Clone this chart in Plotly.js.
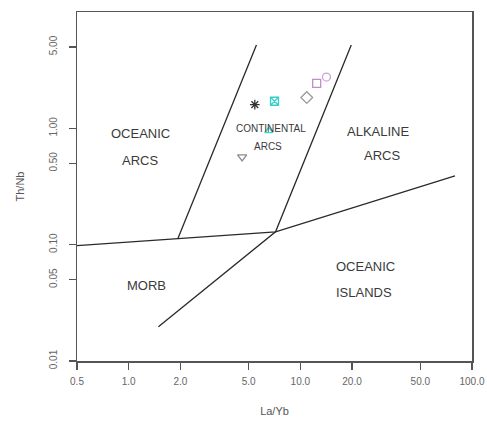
<!DOCTYPE html>
<html>
<head>
<meta charset="utf-8">
<script src="https://cdn.plot.ly/plotly-3.0.1.min.js"></script>
<style>html,body{margin:0;padding:0;background:#fff;}#chart{width:487px;height:423px;}</style>
</head>
<body>
<div id="chart"></div>
<script>
// ---- Data ----
// Sample points (La/Yb, Th/Nb)
var sampleNames = ["S1", "S2", "S3", "S4", "S5", "S6", "S7"];
var sampleLaYb  = [5.43, 7.07, 10.9, 12.45, 14.2, 6.55, 4.58];
var sampleThNb  = [1.60, 1.71, 1.84, 2.43, 2.76, 0.95, 0.568];

// Field boundary lines (La/Yb, Th/Nb vertices)
var boundaryBaseX  = [0.5, 1.93, 7.17, 79.6];
var boundaryBaseY  = [0.098, 0.112, 0.129, 0.39];
var boundaryLeftX  = [1.93, 5.55];
var boundaryLeftY  = [0.112, 5.2];
var boundaryRightX = [1.49, 7.17, 19.8];
var boundaryRightY = [0.0197, 0.129, 5.2];

// Tick labels
var xTickVals = [0.5, 1, 2, 5, 10, 20, 50, 100];
var xTickText = ["0.5", "1.0", "2.0", "5.0", "10.0", "20.0", "50.0", "100.0"];
var yTickVals = [0.01, 0.05, 0.1, 0.5, 1, 5];
var yTickText = ["0.01", "0.05", "0.10", "0.50", "1.00", "5.00"];

// Field labels
var fieldLabels = ["OCEANIC", "ARCS", "CONTINENTAL", "ARCS", "ALKALINE", "ARCS", "MORB", "OCEANIC", "ISLANDS"];

// ---- Styles ----
var sampleStyles = [
  {symbol: "asterisk-open", color: "#333333", size: 8},
  {symbol: "square-x-open", color: "#35d0c8", size: 8},
  {symbol: "diamond-open", color: "#9a9a9a", size: 9},
  {symbol: "square-open", color: "#c08ec8", size: 8},
  {symbol: "circle-open", color: "#d0a0d8", size: 8},
  {symbol: "triangle-up-open", color: "#40d8c8", size: 7},
  {symbol: "triangle-down-open", color: "#8a8a8a", size: 8}
];
var labelPos = [
  [0.160, 0.652, 13], [0.160, 0.575, 13],
  [0.491, 0.667, 10], [0.483, 0.616, 10],
  [0.763, 0.658, 13], [0.773, 0.590, 13],
  [0.177, 0.215, 13],
  [0.731, 0.270, 13], [0.727, 0.197, 13]
];

var lineStyle = {color: "#2a2a2a", width: 1.3};
var traces = [
  {x: boundaryBaseX, y: boundaryBaseY, mode: "lines", line: lineStyle, hoverinfo: "skip"},
  {x: boundaryLeftX, y: boundaryLeftY, mode: "lines", line: lineStyle, hoverinfo: "skip"},
  {x: boundaryRightX, y: boundaryRightY, mode: "lines", line: lineStyle, hoverinfo: "skip"}
];
for (var i = 0; i < sampleNames.length; i++) {
  var s = sampleStyles[i];
  traces.push({
    x: [sampleLaYb[i]], y: [sampleThNb[i]], name: sampleNames[i], mode: "markers",
    marker: {symbol: s.symbol, color: s.color, size: s.size, line: {color: s.color, width: 1.3}}
  });
}

var annotations = fieldLabels.map(function (t, i) {
  return {text: t, xref: "paper", yref: "paper", x: labelPos[i][0], y: labelPos[i][1],
    xanchor: "center", yanchor: "middle", showarrow: false,
    font: {family: "Liberation Sans, Arial, sans-serif", size: labelPos[i][2], color: "#3a3a3a"}};
});

var axisCommon = {
  showgrid: false, zeroline: false, showline: true, mirror: true,
  linecolor: "#555", linewidth: 1.5, ticks: "outside", ticklen: 7, tickwidth: 1.2,
  tickcolor: "#555", tickfont: {family: "Liberation Sans, Arial, sans-serif", size: 10, color: "#666"}
};

var layout = {
  width: 487, height: 423,
  margin: {l: 77, r: 15, t: 12, b: 62},
  paper_bgcolor: "#fff", plot_bgcolor: "#fff",
  showlegend: false,
  font: {family: "Liberation Sans, Arial, sans-serif"},
  xaxis: Object.assign({}, axisCommon, {
    type: "log", range: [Math.log10(0.5), 2],
    tickvals: xTickVals, ticktext: xTickText, ticklabelstandoff: 3,
    title: {text: "La/Yb", font: {size: 11, color: "#555"}, standoff: 22}
  }),
  yaxis: Object.assign({}, axisCommon, {
    type: "log", range: [-2, 1],
    tickvals: yTickVals, ticktext: yTickText, tickangle: -90, ticklabelstandoff: 8,
    title: {text: "Th/Nb", font: {size: 11, color: "#555"}, standoff: 20}
  }),
  annotations: annotations
};

Plotly.newPlot("chart", traces, layout, {staticPlot: true, displayModeBar: false});
</script>
</body>
</html>
